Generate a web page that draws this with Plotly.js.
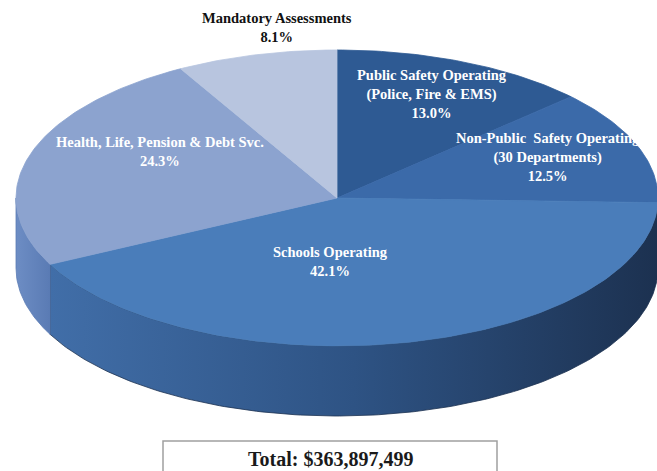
<!DOCTYPE html>
<html>
<head>
<meta charset="utf-8">
<script src="https://cdn.plot.ly/plotly-3.0.1.min.js"></script>
<style>html,body{margin:0;padding:0;background:#fff;}#chart{width:657px;height:471px;}</style>
</head>
<body>
<div id="chart"></div>
<script>
// ---- data ----
const categories = [
  "Public Safety Operating (Police, Fire & EMS)",
  "Non-Public Safety Operating (30 Departments)",
  "Schools Operating",
  "Health, Life, Pension & Debt Svc.",
  "Mandatory Assessments"
];
const labelLines = [
  "Public Safety Operating<br>(Police, Fire & EMS)",
  "Non-Public  Safety Operating<br>(30 Departments)",
  "Schools Operating",
  "Health, Life, Pension & Debt Svc.",
  "Mandatory Assessments"
];
const shares = [13.0, 12.5, 42.1, 24.3, 8.1];
const totalText = "Total: $363,897,499";

// ---- styles / layout ----
const topColors = ["#2e5a93", "#3b6aa9", "#4a7dba", "#8ca3cf", "#b8c5df"];
const sideGradients = [
  null,
  [[0, "#1f3555"], [1, "#1f3555"]],
  [[0, "#416ea8"], [0.5, "#2e5384"], [1, "#1c3150"]],
  [[0, "#6d8dc4"], [1, "#5a7bb4"]],
  null
];
const labelPos = [[432, 94], [548, 157], [330, 261], [160, 151], [277, 27]];
const labelColors = ["#ffffff", "#ffffff", "#ffffff", "#ffffff", "#111111"];
const CX = 337, CY = 198, RX = 321, RY = 148, DEPTH = 70;

function pt(deg, dy) {
  const r = deg * Math.PI / 180;
  return [CX + RX * Math.sin(r), CY - RY * Math.cos(r) + (dy || 0)];
}
function arc(a1, a2, dy) {
  const pts = [];
  const n = Math.max(2, Math.ceil(Math.abs(a2 - a1)));
  for (let k = 0; k <= n; k++) pts.push(pt(a1 + (a2 - a1) * k / n, dy));
  return pts;
}

const sum = shares.reduce((a, b) => a + b, 0);
const starts = [], ends = [];
let acc = 0;
shares.forEach(v => { starts.push(acc / sum * 360); acc += v; ends.push(acc / sum * 360); });

const traces = [];
// side walls (front half only)
shares.forEach((v, i) => {
  const s = Math.max(starts[i], 90), e = Math.min(ends[i], 270);
  if (s >= e || !sideGradients[i]) return;
  const pts = arc(s, e, 0).concat(arc(e, s, DEPTH));
  pts.push(pts[0]);
  traces.push({
    type: "scatter", mode: "lines",
    x: pts.map(p => p[0]), y: pts.map(p => p[1]),
    fill: "toself",
    fillgradient: { type: "horizontal", colorscale: sideGradients[i] },
    line: { width: 0.8, color: sideGradients[i][sideGradients[i].length - 1][1] },
    hoverinfo: "skip", showlegend: false
  });
});
// top faces
shares.forEach((v, i) => {
  const pts = [[CX, CY]].concat(arc(starts[i], ends[i], 0));
  pts.push([CX, CY]);
  traces.push({
    type: "scatter", mode: "lines",
    x: pts.map(p => p[0]), y: pts.map(p => p[1]),
    fill: "toself", fillcolor: topColors[i],
    line: { width: 0.8, color: topColors[i] },
    name: categories[i], text: categories[i] + ": " + v.toFixed(1) + "%",
    hoverinfo: "text", showlegend: false
  });
});

const annotations = shares.map((v, i) => ({
  x: labelPos[i][0], y: labelPos[i][1], xref: "x", yref: "y",
  text: "<b>" + labelLines[i] + "<br>" + v.toFixed(1) + "%</b>",
  showarrow: false, align: "center",
  font: { family: "Liberation Serif, Times New Roman, serif", size: 14.5, color: labelColors[i] }
}));
annotations.push({
  x: 330, y: 459, xref: "x", yref: "y",
  text: "<b>" + totalText + "</b>", showarrow: false,
  font: { family: "Liberation Serif, Times New Roman, serif", size: 20, color: "#1a1a1a" }
});

const layout = {
  width: 657, height: 471,
  margin: { l: 0, r: 0, t: 0, b: 0 },
  paper_bgcolor: "#ffffff", plot_bgcolor: "#ffffff",
  xaxis: { range: [0, 657], visible: false, fixedrange: true },
  yaxis: { range: [471, 0], visible: false, fixedrange: true },
  annotations: annotations,
  shapes: [{
    type: "rect", xref: "x", yref: "y",
    x0: 163, x1: 497, y0: 441, y1: 480,
    line: { color: "#a0a0a0", width: 1.5 }, fillcolor: "rgba(0,0,0,0)"
  }],
  showlegend: false
};

Plotly.newPlot("chart", traces, layout, { staticPlot: true, displayModeBar: false });
</script>
</body>
</html>
